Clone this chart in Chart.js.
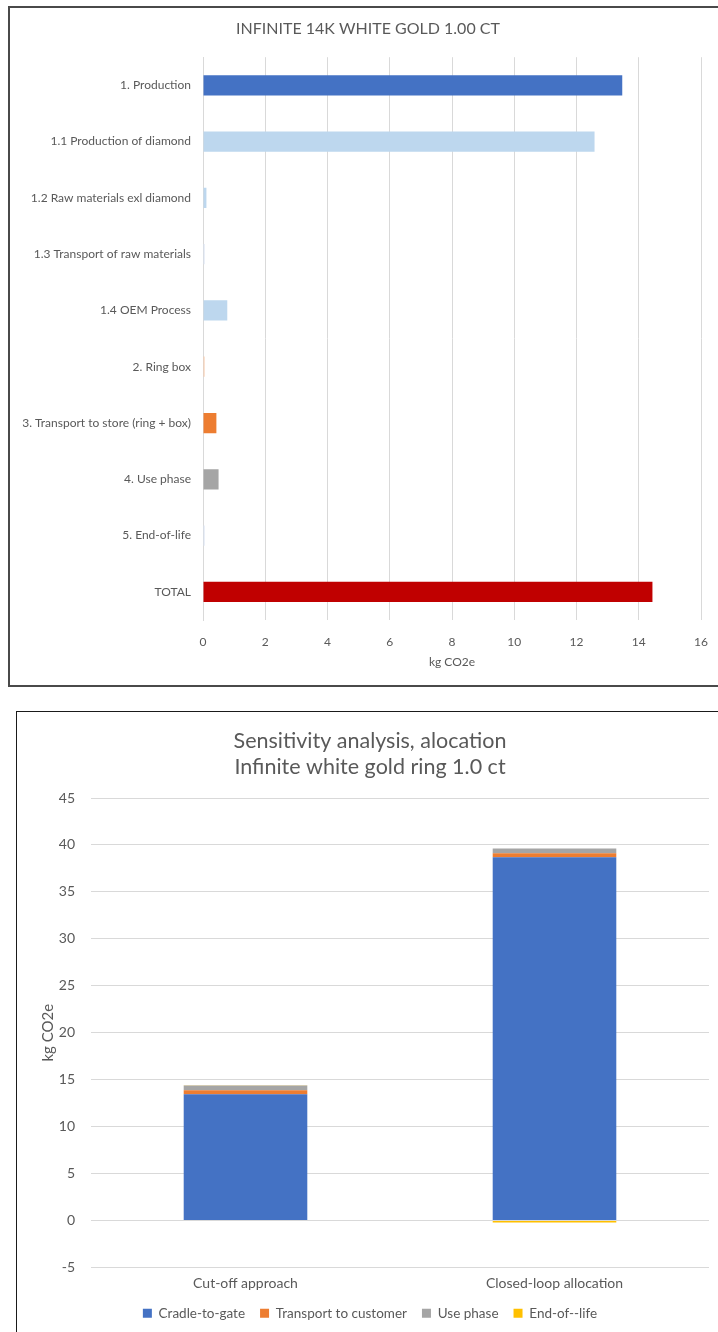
<!DOCTYPE html>
<html>
<head>
<meta charset="utf-8">
<script src="https://cdn.jsdelivr.net/npm/chart.js@4.4.1/dist/chart.umd.min.js"></script>
<style>
    html, body {
        margin: 0;
        padding: 0;
        background: #ffffff;
        width: 718px;
        height: 1332px;
        overflow: hidden;
    }
    .frame {
        position: absolute;
        box-sizing: border-box;
        pointer-events: none;
    }
    #frame1 {
        left: 8px;
        top: 6px;
        width: 720px;
        height: 681px;
        border: 2px solid #4a4a4a;
    }
    #frame2 {
        left: 16px;
        top: 711px;
        width: 720px;
        height: 660px;
        border: 1px solid #1a1a1a;
    }
    .holder {
        position: absolute;
    }
    #holder1 {
        left: 10px;
        top: 8px;
        width: 716px;
        height: 678px;
    }
    #holder2 {
        left: 17px;
        top: 712px;
        width: 706px;
        height: 640px;
    }
</style>
</head>
<body>
<div class="holder" id="holder1"><canvas id="barChart1"></canvas></div>
<div class="holder" id="holder2"><canvas id="barChart2"></canvas></div>
<div class="frame" id="frame1"></div>
<div class="frame" id="frame2"></div>

<script>
// footprint breakdown, kg CO2e per ring
var labels_steps = [
    "1. Production",
    "1.1 Production of diamond",
    "1.2 Raw materials exl diamond",
    "1.3 Transport of raw materials",
    "1.4 OEM Process",
    "2. Ring box",
    "3. Transport to store (ring + box)",
    "4. Use phase",
    "5. End-of-life",
    "TOTAL",
];
var data_steps = [13.47, 12.58, 0.11, 0.05, 0.78, 0.05, 0.43, 0.5, 0.05, 14.44];
var colors_steps = [
    "#4472C4",
    "#BDD7EE",
    "#BDD7EE",
    "#DAE3F3",
    "#BDD7EE",
    "#F8CBAD",
    "#ED7D31",
    "#A5A5A5",
    "#DAE3F3",
    "#C00000",
];
var ticks_steps = [0, 2, 4, 6, 8, 10, 12, 14, 16];

// allocation sensitivity, stacked per life cycle stage
var labels_allocation = ["Cut-off approach", "Closed-loop allocation"];
var data_cradle_to_gate = [13.45, 38.7];
var data_transport = [0.43, 0.43];
var data_use_phase = [0.5, 0.5];
var data_end_of_life = [0.03, -0.2];

var fontFamily = "Lato, 'Open Sans', sans-serif";
var textColor = "#595959";
var gridColor = "#D9D9D9";

Chart.defaults.font.family = fontFamily;
Chart.defaults.color = textColor;
Chart.defaults.animation = false;

// empty right-hand axis, only reserves room so the title stays centred on the frame
function spacerAxis(width) {
    return {
        position: "right",
        grid: { display: false, drawTicks: false },
        border: { display: false },
        ticks: { display: false },
        afterFit: (axis) => {
            axis.width = width;
        },
    };
}

//-------------
//- BAR CHART -
//-------------
var barChartCanvas1 = document.getElementById("barChart1").getContext("2d");
new Chart(barChartCanvas1, {
    type: "bar",
    data: {
        labels: labels_steps,
        datasets: [
            {
                data: data_steps,
                backgroundColor: colors_steps,
                barPercentage: 0.36,
                categoryPercentage: 1,
            },
        ],
    },
    options: {
        indexAxis: "y",
        maintainAspectRatio: false,
        responsive: true,
        layout: {
            padding: 0,
        },
        plugins: {
            legend: { display: false },
            tooltip: { enabled: false },
            title: {
                display: true,
                text: "INFINITE 14K WHITE GOLD 1.00 CT",
                color: textColor,
                font: { size: 16, weight: "normal" },
                padding: { top: 11, bottom: 19 },
            },
        },
        scales: {
            x: {
                min: 0,
                max: 16,
                afterBuildTicks: (axis) => {
                    axis.ticks = ticks_steps.map((v) => ({ value: v }));
                },
                afterFit: (axis) => {
                    axis.height = 66;
                },
                grid: { color: gridColor, drawTicks: false },
                border: { display: false },
                ticks: { padding: 15, font: { size: 12 }, color: textColor },
                title: {
                    display: true,
                    text: "kg CO2e",
                    color: textColor,
                    font: { size: 12 },
                    padding: { top: 0, bottom: 17 },
                },
            },
            y: {
                afterFit: (axis) => {
                    axis.width = 193;
                },
                grid: { display: false, drawTicks: false },
                border: { display: true, color: gridColor },
                ticks: { padding: 12, font: { size: 12 }, color: textColor },
            },
            yRight: spacerAxis(25),
        },
    },
});

//---------------------
//- STACKED BAR CHART -
//---------------------
var barChartCanvas2 = document.getElementById("barChart2").getContext("2d");
new Chart(barChartCanvas2, {
    type: "bar",
    data: {
        labels: labels_allocation,
        datasets: [
            {
                label: "Cradle-to-gate",
                data: data_cradle_to_gate,
                backgroundColor: "#4472C4",
            },
            {
                label: "Transport to customer",
                data: data_transport,
                backgroundColor: "#ED7D31",
            },
            {
                label: "Use phase",
                data: data_use_phase,
                backgroundColor: "#A5A5A5",
            },
            {
                label: "End-of--life",
                data: data_end_of_life,
                backgroundColor: "#FFC000",
            },
        ],
    },
    options: {
        maintainAspectRatio: false,
        responsive: true,
        datasets: {
            bar: { barPercentage: 0.4, categoryPercentage: 1 },
        },
        layout: {
            padding: { left: 0, right: 0, top: 0, bottom: 22 },
        },
        plugins: {
            tooltip: { enabled: false },
            title: {
                display: true,
                text: ["Sensitivity analysis, alocation", "Infinite white gold ring 1.0 ct"],
                color: textColor,
                font: { size: 21.5, weight: "normal", lineHeight: 1.21 },
                padding: { top: 16, bottom: 18 },
            },
            legend: {
                position: "bottom",
                labels: {
                    boxWidth: 9,
                    boxHeight: 9,
                    padding: 15,
                    color: textColor,
                    font: { size: 13.5 },
                },
            },
        },
        scales: {
            x: {
                stacked: true,
                afterFit: (axis) => {
                    axis.height = 24;
                },
                grid: { display: false, drawTicks: false },
                border: { display: false },
                ticks: { padding: 8, font: { size: 14 }, color: textColor },
            },
            y: {
                stacked: true,
                min: -5,
                max: 45,
                afterFit: (axis) => {
                    axis.width = 74;
                },
                grid: { color: gridColor, drawTicks: false },
                border: { display: false },
                ticks: { stepSize: 5, padding: 16, font: { size: 14 }, color: textColor },
                title: {
                    display: true,
                    text: "kg CO2e",
                    color: textColor,
                    font: { size: 15 },
                    padding: { top: 22, bottom: 0 },
                },
            },
            yRight: spacerAxis(14),
        },
    },
});
</script>
</body>
</html>
